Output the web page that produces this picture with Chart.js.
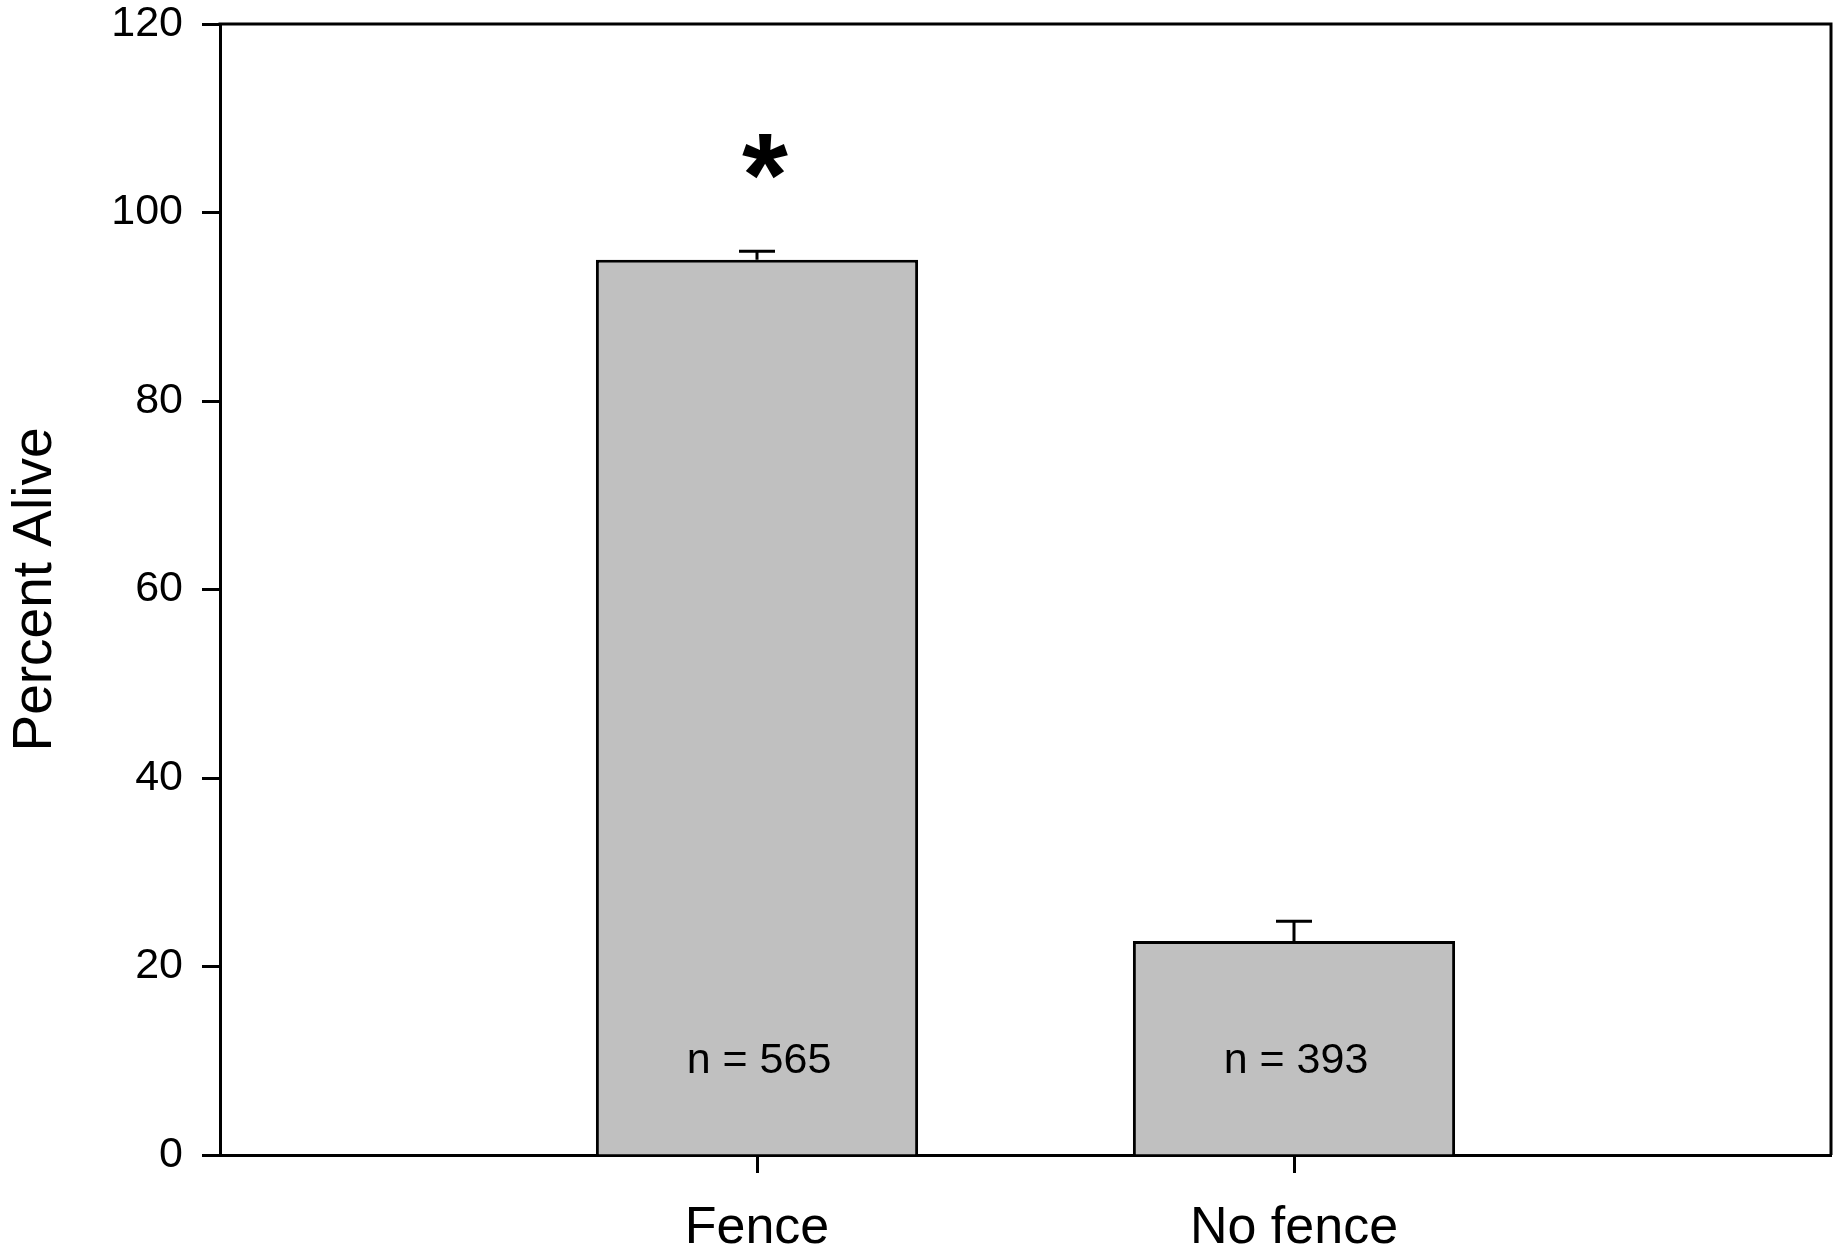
<!DOCTYPE html>
<html>
<head>
<meta charset="utf-8">
<script src="https://cdn.jsdelivr.net/npm/chart.js@4"></script>
<style>
  html, body { margin: 0; padding: 0; background: #fff; }
</style>
</head>
<body>
<canvas id="myChart" width="1843" height="1253"></canvas>
<script>
const categories = ["Fence", "No fence"];
const percentAlive = [95, 22.7];
const stdError = [0.9, 2.1];
const sampleSize = [565, 393];
const significant = [true, false];
const yTicks = [0, 20, 40, 60, 80, 100, 120];

const FONT = "'Liberation Sans', Arial, Helvetica, sans-serif";

// blank slots either side so the two bars sit at 1/3 and 2/3 of the width
const labels = ["", ...categories, ""];
const values = [null, ...percentAlive, null];

// frame on top and right, error bars, n labels and the significance star
const extras = {
  id: "extras",
  afterDatasetsDraw(chart) {
    const ctx = chart.ctx;
    const area = chart.chartArea;
    const y = chart.scales.y;
    const meta = chart.getDatasetMeta(0);

    ctx.save();
    ctx.strokeStyle = "#000";
    ctx.lineWidth = 3;
    ctx.beginPath();
    ctx.moveTo(area.left - 1.5, area.top);
    ctx.lineTo(area.right, area.top);
    ctx.lineTo(area.right, area.bottom);
    ctx.stroke();

    percentAlive.forEach((v, i) => {
      const bar = meta.data[i + 1];
      const top = y.getPixelForValue(v + stdError[i]);
      ctx.beginPath();
      ctx.moveTo(bar.x, bar.y);
      ctx.lineTo(bar.x, top);
      ctx.moveTo(bar.x - 18, top);
      ctx.lineTo(bar.x + 18, top);
      ctx.stroke();

      ctx.fillStyle = "#000";
      ctx.font = "43px " + FONT;
      ctx.textAlign = "center";
      ctx.textBaseline = "middle";
      ctx.fillText("n = " + sampleSize[i], bar.x + 2, y.getPixelForValue(10));

      if (significant[i]) {
        ctx.font = "bold 118px " + FONT;
        ctx.textBaseline = "alphabetic";
        ctx.textAlign = "left";
        const m = ctx.measureText("*");
        const cy = top - 95;
        const cx = bar.x + 8;
        const w = m.actualBoundingBoxRight + m.actualBoundingBoxLeft;
        const h = m.actualBoundingBoxAscent + m.actualBoundingBoxDescent;
        ctx.fillText("*", cx - w / 2 + m.actualBoundingBoxLeft, cy - h / 2 + m.actualBoundingBoxAscent);
      }
    });
    ctx.restore();
  }
};

const ctx = document.getElementById("myChart").getContext("2d");
const myChart = new Chart(ctx, {
  type: "bar",
  data: {
    labels: labels,
    datasets: [
      {
        data: values,
        backgroundColor: "#c0c0c0",
        borderColor: "#000",
        borderWidth: 3,
        barPercentage: 0.6,
        categoryPercentage: 1,
      },
    ],
  },
  options: {
    responsive: false,
    animation: false,
    layout: {
      autoPadding: false,
      padding: { top: 24, right: 12, left: 0, bottom: 0 },
    },
    plugins: {
      legend: { display: false },
      tooltip: { enabled: false },
    },
    scales: {
      x: {
        offset: false,
        border: { color: "#000", width: 3 },
        grid: {
          offset: false,
          drawOnChartArea: false,
          tickLength: 18,
          tickWidth: 3,
          tickColor: (c) => (c.tick && c.tick.label ? "#000" : "rgba(0,0,0,0)"),
        },
        ticks: {
          color: "#000",
          padding: 24,
          maxRotation: 0,
          autoSkip: false,
          font: { family: FONT, size: 52 },
        },
        afterFit(scale) {
          scale.height = 98;
          scale.paddingLeft = 0;
          scale.paddingRight = 0;
        },
      },
      y: {
        min: 0,
        max: 120,
        border: { color: "#000", width: 3 },
        grid: {
          drawOnChartArea: false,
          tickLength: 18,
          tickWidth: 3,
          tickColor: "#000",
        },
        afterBuildTicks(scale) {
          scale.ticks = yTicks.map((v) => ({ value: v }));
        },
        ticks: {
          color: "#000",
          padding: 19,
          font: { family: FONT, size: 43, lineHeight: 1 },
        },
        title: {
          display: true,
          text: "Percent Alive",
          color: "#000",
          padding: { top: 3, bottom: 0 },
          font: { family: FONT, size: 55 },
        },
        afterFit(scale) {
          scale.width = 220;
          scale.paddingTop = 0;
          scale.paddingBottom = 0;
        },
      },
    },
  },
  plugins: [extras],
});
</script>
</body>
</html>
